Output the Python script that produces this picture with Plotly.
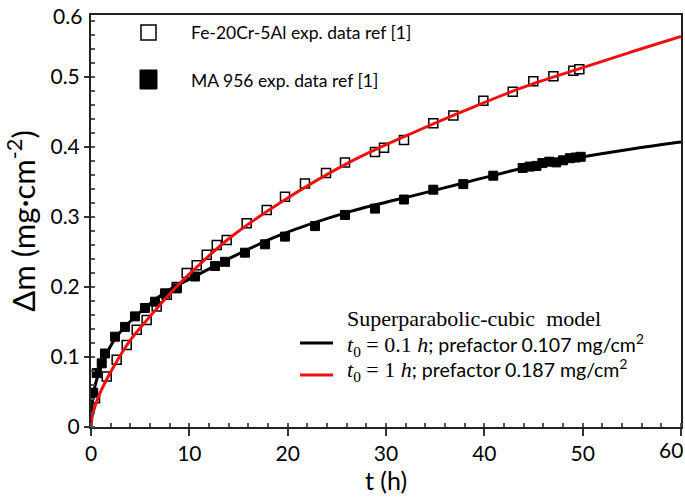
import plotly.graph_objects as go

# ---- data ----
fe_t = [0.41, 1.6, 2.61, 3.63, 4.65, 5.66, 6.68, 7.7, 8.72, 9.73, 10.75, 11.77, 12.79, 13.8,
        15.83, 17.87, 19.73, 21.76, 23.9, 25.83, 28.88, 29.8, 31.83, 34.81, 36.85, 39.9,
        42.89, 44.98, 47.02, 49.05, 49.66]
fe_m = [0.041, 0.072, 0.096, 0.117, 0.139, 0.153, 0.172, 0.189, 0.200, 0.220, 0.231, 0.246,
        0.260, 0.267, 0.291, 0.310, 0.329, 0.348, 0.363, 0.378, 0.393, 0.399, 0.410, 0.434,
        0.445, 0.466, 0.479, 0.494, 0.501, 0.509, 0.511]

ma_t = [0.23, 0.58, 1.09, 1.42, 2.44, 3.46, 4.47, 5.49, 6.51, 7.53, 8.72, 10.58, 12.61, 13.63,
        15.66, 17.7, 19.73, 22.78, 25.83, 28.88, 31.83, 34.81, 37.86, 40.91,
        43.9, 44.6, 45.3, 45.9, 46.6, 47.3, 48.0, 48.7, 49.3, 49.8]
ma_m = [0.049, 0.077, 0.091, 0.105, 0.129, 0.143, 0.158, 0.170, 0.179, 0.191, 0.198, 0.215,
        0.230, 0.236, 0.249, 0.261, 0.272, 0.287, 0.303, 0.312, 0.325, 0.339, 0.347, 0.359,
        0.370, 0.372, 0.373, 0.377, 0.379, 0.378, 0.381, 0.384, 0.385, 0.386]

red_t = [0, 0.05, 0.2, 0.9, 2.3, 4.0, 5.7, 8.4, 10.8, 14.1, 19.2, 26.4, 33.5, 38.0, 43.7, 49.7, 55.0, 60]
red_m = [0, 0.008, 0.02, 0.048, 0.086, 0.124, 0.153, 0.196, 0.229, 0.270, 0.320, 0.379, 0.425,
         0.452, 0.484, 0.512, 0.536, 0.558]

blk_t = [0, 0.1, 0.4, 0.9, 1.6, 2.6, 4.3, 7.4, 10.8, 14.1, 19.2, 26.4, 33.5, 38.0, 43.7, 49.7, 55.0, 60]
blk_m = [0, 0.030, 0.058, 0.081, 0.105, 0.129, 0.155, 0.191, 0.217, 0.241, 0.274, 0.308, 0.333,
         0.349, 0.369, 0.385, 0.397, 0.407]

x_ticks = [0, 10, 20, 30, 40, 50, 60]
x_tick_text = ["0", "10", "20", "30", "40", "50", ""]
y_ticks = [0, 0.1, 0.2, 0.3, 0.4, 0.5]
y_tick_text = ["0", "0.1", "0.2", "0.3", "0.4", "0.5"]

legend_fe = "Fe-20Cr-5Al exp. data ref [1]"
legend_ma = "MA 956 exp. data ref [1]"
model_title = "Superparabolic-cubic&nbsp;&nbsp;model"
model_black = ("<span style='font-family:Liberation Serif;font-size:22px'><i>t</i><sub>0</sub> = 0.1 <i>h</i></span>"
               "; prefactor 0.107 mg/cm<sup>2</sup>")
model_red = ("<span style='font-family:Liberation Serif;font-size:22px'><i>t</i><sub>0</sub> = 1 <i>h</i></span>"
             "; prefactor 0.187 mg/cm<sup>2</sup>")

# ---- figure ----
W, H = 685, 498
L, R, T, B = 91, 4, 15, 71
pw, ph = W - L - R, H - T - B


def px(x):
    return (x - L) / pw


def py(y):
    return (H - B - y) / ph


fig = go.Figure()
fig.add_trace(go.Scatter(x=fe_t, y=fe_m, mode="markers",
                         marker=dict(symbol="square", size=9, color="white",
                                     line=dict(color="black", width=1.5))))
fig.add_trace(go.Scatter(x=ma_t, y=ma_m, mode="markers",
                         marker=dict(symbol="square", size=9, color="black",
                                     line=dict(color="black", width=1))))
fig.add_trace(go.Scatter(x=blk_t, y=blk_m, mode="lines", line_shape="spline",
                         line=dict(color="black", width=3)))
fig.add_trace(go.Scatter(x=red_t, y=red_m, mode="lines", line_shape="spline",
                         line=dict(color="#ee1111", width=3)))

tick_font = dict(family="Lato, sans-serif", size=21, color="black")
fig.update_xaxes(range=[0, 60], tickvals=x_ticks, ticktext=x_tick_text, ticks="outside", ticklen=7,
                 tickwidth=1.5, tickcolor="#333", showline=True, linecolor="#222", linewidth=2,
                 mirror=True, showgrid=False, zeroline=False, tickfont=tick_font, automargin=False,
                 minor=dict(dtick=2, ticks="inside", ticklen=4, tickcolor="#555"),
                 title=dict(text="t (h)", font=dict(family="Lato, sans-serif", size=25, color="black"),
                            standoff=4))
fig.update_yaxes(range=[0, (H - B - T) / 700], tickvals=y_ticks, ticktext=y_tick_text,
                 ticks="outside", ticklen=5, tickwidth=1.5, tickcolor="#333",
                 showline=True, linecolor="#222", linewidth=2, mirror=True,
                 showgrid=False, zeroline=False, tickfont=tick_font, automargin=False,
                 minor=dict(dtick=0.02, ticks="inside", ticklen=4, tickcolor="#555"),
                 title=dict(text="\u0394m (mg\u00b7cm<sup>-2</sup>)",
                            font=dict(family="Lato, sans-serif", size=31, color="black"),
                            standoff=6))

shapes = [
    dict(type="rect", xref="paper", yref="paper", x0=px(141), x1=px(156), y0=py(40), y1=py(25),
         line=dict(color="black", width=1.5), fillcolor="white"),
    dict(type="rect", xref="paper", yref="paper", x0=px(140), x1=px(157), y0=py(89), y1=py(70),
         line=dict(color="black", width=1), fillcolor="black"),
    dict(type="line", xref="paper", yref="paper", x0=px(300), x1=px(333), y0=py(343), y1=py(343),
         line=dict(color="black", width=3)),
    dict(type="line", xref="paper", yref="paper", x0=px(300), x1=px(333), y0=py(375), y1=py(375),
         line=dict(color="#ee1111", width=3)),
]

sans = dict(family="Lato, sans-serif", size=17.5, color="black")
sans2 = dict(family="Lato, sans-serif", size=19.5, color="black")
serif = dict(family="Liberation Serif, serif", size=22, color="black")
annotations = [
    dict(text="0.6", xref="paper", yref="paper", x=0, y=1, xshift=-7, xanchor="right",
         yanchor="middle", showarrow=False, font=tick_font),
    dict(text="60", xref="paper", yref="paper", x=1, y=0, xshift=4, yshift=-8, xanchor="right",
         yanchor="top", showarrow=False, font=tick_font),
    dict(text=legend_fe, xref="paper", yref="paper", x=px(189), y=py(33), xanchor="left",
         yanchor="middle", showarrow=False, font=sans),
    dict(text=legend_ma, xref="paper", yref="paper", x=px(189), y=py(80), xanchor="left",
         yanchor="middle", showarrow=False, font=sans),
    dict(text=model_title, xref="paper", yref="paper", x=px(345), y=py(318), xanchor="left",
         yanchor="middle", showarrow=False, font=serif),
    dict(text=model_black, xref="paper", yref="paper", x=px(345), y=py(345), xanchor="left",
         yanchor="middle", showarrow=False, font=sans2),
    dict(text=model_red, xref="paper", yref="paper", x=px(345), y=py(370), xanchor="left",
         yanchor="middle", showarrow=False, font=sans2),
]

fig.update_layout(width=W, height=H, margin=dict(l=L, r=R, t=T, b=B),
                  paper_bgcolor="white", plot_bgcolor="white", showlegend=False,
                  shapes=shapes, annotations=annotations)

fig.write_html("out.html", config={"displayModeBar": False},
               post_script="document.body.style.margin='0';document.body.style.overflow='hidden';")
